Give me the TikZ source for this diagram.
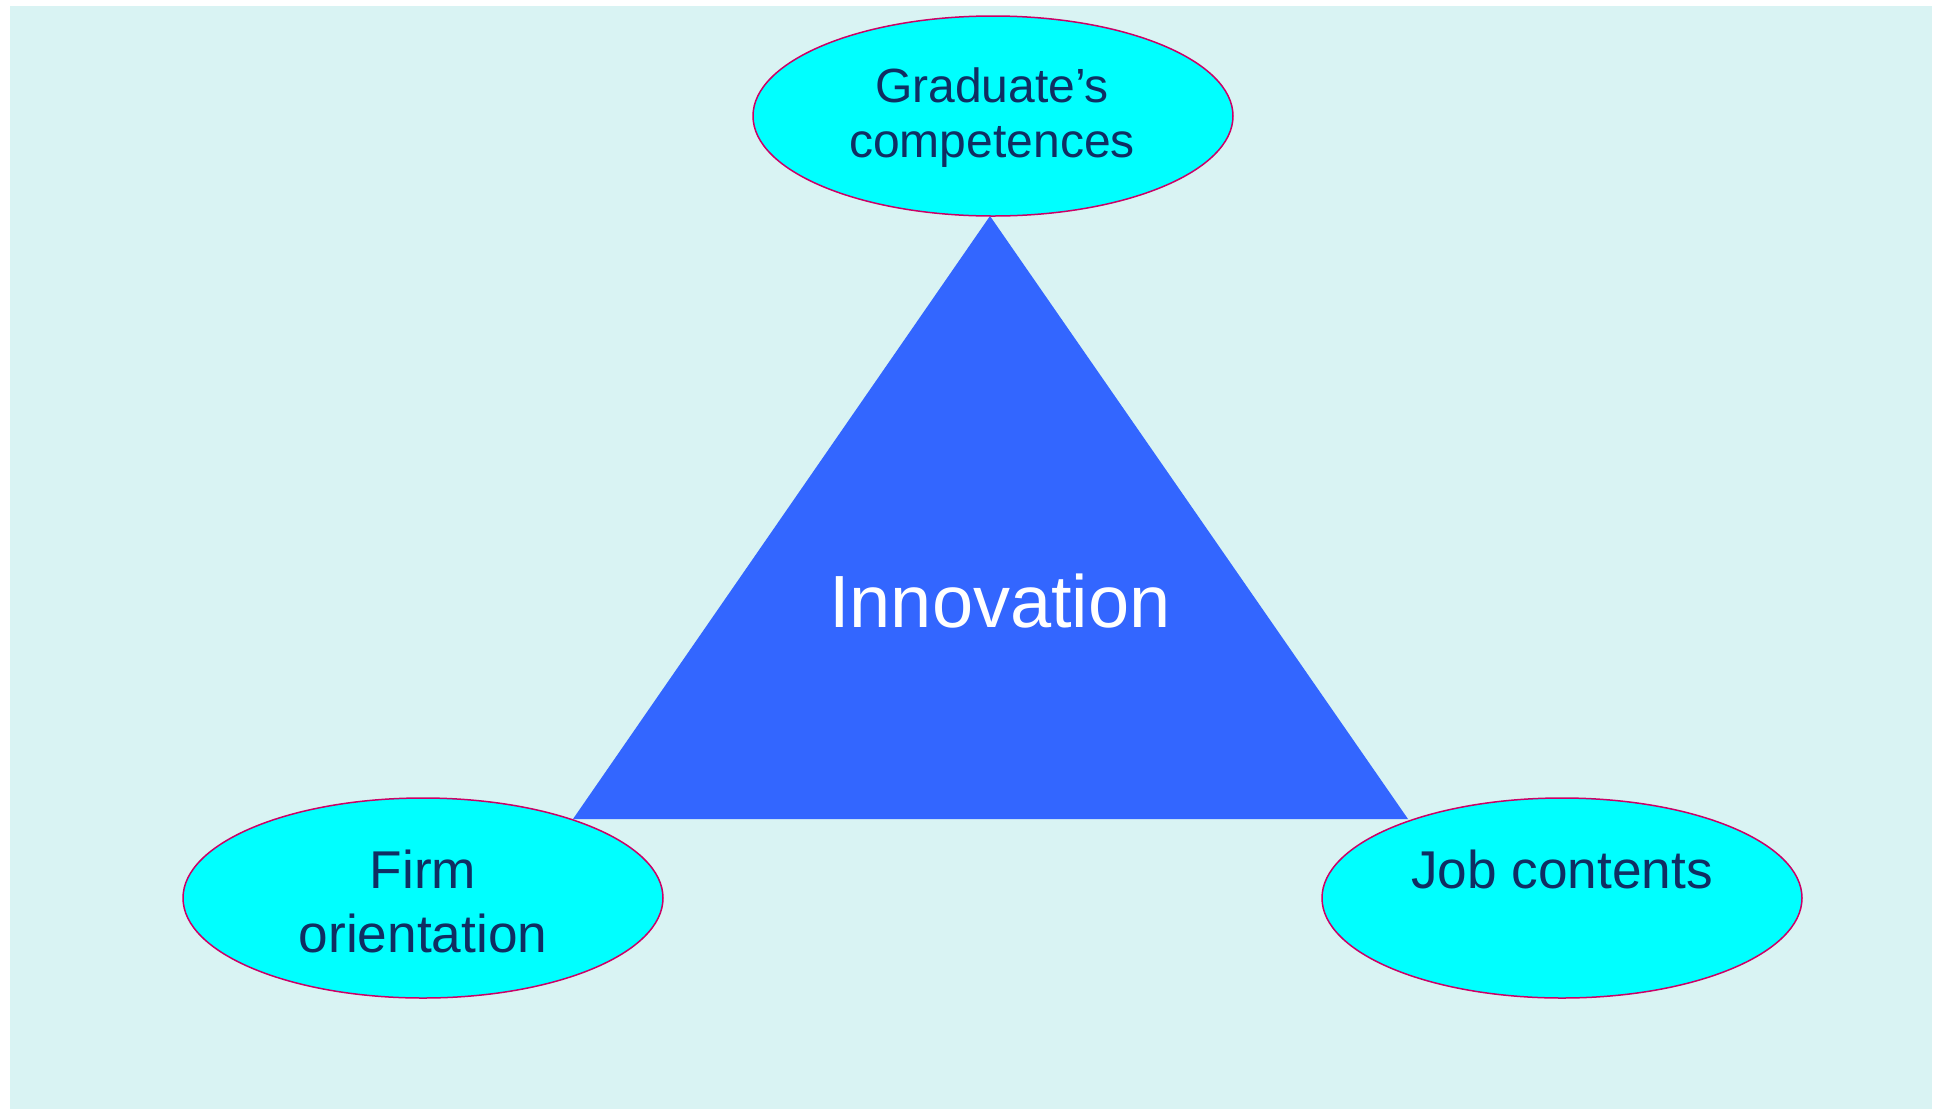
\documentclass[tikz,border=0pt]{standalone}
\usepackage{fontspec}
\setmainfont{Liberation Sans}
\usetikzlibrary{shapes.geometric}
\definecolor{panel}{RGB}{217,243,243}
\definecolor{wedge}{RGB}{51,102,255}
\definecolor{bubble}{RGB}{0,255,255}
\definecolor{rim}{RGB}{204,0,102}
\definecolor{ink}{RGB}{16,46,98}
\tikzset{
  x=0.5pt, y=-0.5pt,
  bubblenode/.style={ellipse, draw=rim, line width=0.75pt, fill=bubble,
    minimum width=240pt, minimum height=100pt, inner sep=0pt},
  bubbletext/.style={anchor=base, inner sep=0pt, text=ink,
    font=\fontsize{26.6}{32}\selectfont},
  smalltext/.style={bubbletext, font=\fontsize{24}{29}\selectfont},
  coretext/.style={anchor=base, inner sep=0pt, text=white,
    font=\fontsize{37}{44}\selectfont}
}
\begin{document}
\begin{tikzpicture}
  \useasboundingbox (0,0) rectangle (1934,1109);
  \fill[panel] (10,6) rectangle (1932,1109);

  % central triangle
  \coordinate (apex) at (990,216);
  \coordinate (baseL) at (573,819);
  \coordinate (baseR) at (1408,819);
  \fill[wedge] (apex) -- (baseR) -- (baseL) -- cycle;
  \node[coretext] (innov) at (1000,627) {Innovation};

  % the three factors
  \node[bubblenode] (grad) at (993,116) {};
  \node[bubblenode] (firm) at (423,898) {};
  \node[bubblenode] (job)  at (1562,898) {};

  \node[smalltext] (gradA) at (992,102) {Graduate’s};
  \node[smalltext] (gradB) at (992,157) {competences};
  \node[bubbletext] (firmA) at (423,888) {Firm};
  \node[bubbletext] (firmB) at (423,952) {orientation};
  \node[bubbletext] (jobA)  at (1562,888) {Job contents};
\end{tikzpicture}
\end{document}
